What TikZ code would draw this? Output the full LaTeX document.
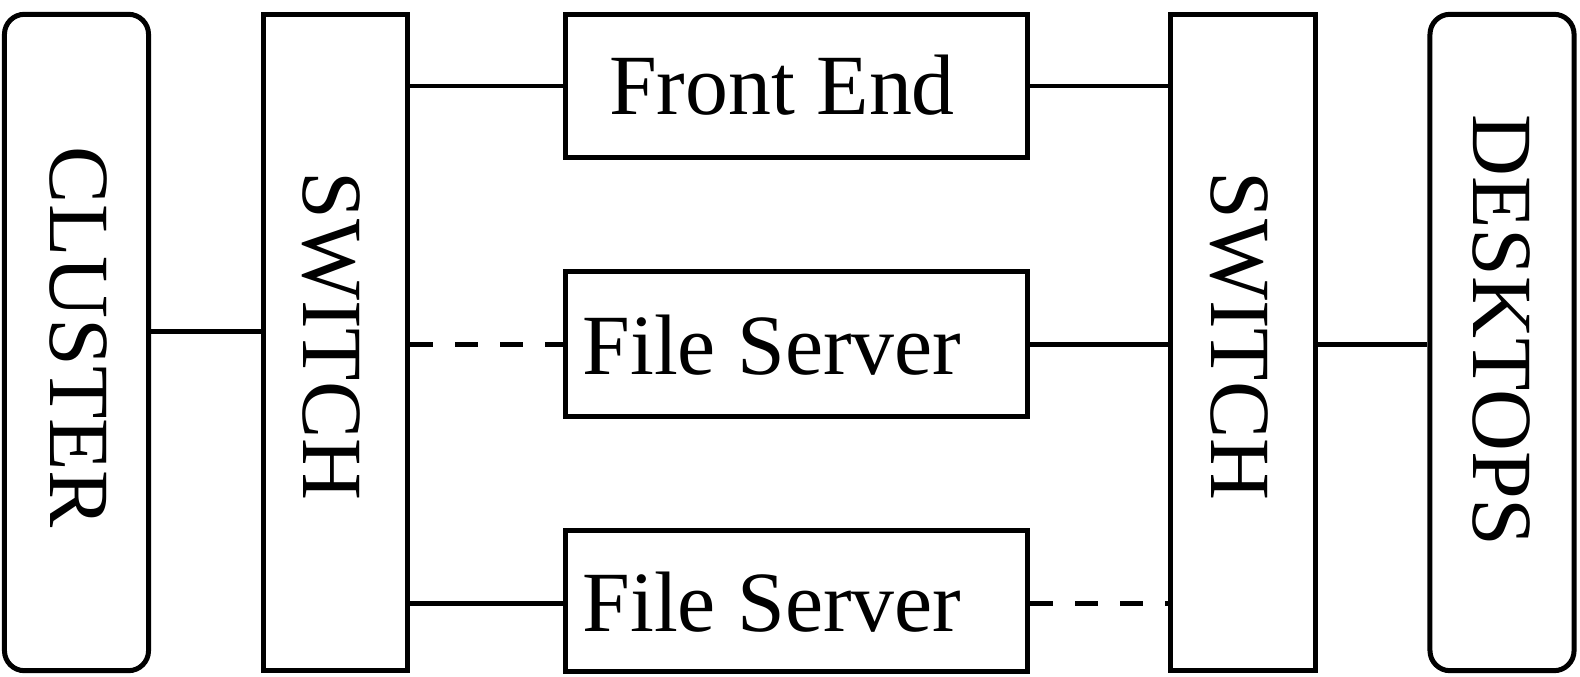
\documentclass[tikz,border=0pt]{standalone}
\usepackage{fontspec}
\setmainfont{Liberation Serif}
\begin{document}
\begin{tikzpicture}[x=0.01cm,y=-0.01cm,
  box/.style={draw,line width=1.42pt,inner sep=0pt,anchor=center},
  endbox/.style={box,rounded corners=0.2cm,minimum width=1.44cm,minimum height=6.56cm},
  switchbox/.style={box,minimum width=1.44cm,minimum height=6.56cm},
  hostbox/.style={box,minimum width=4.62cm},
  lbl/.style={inner sep=0pt,anchor=center,font=\fontsize{24.4}{29}\selectfont},
  vlbl/.style={lbl,rotate=-90},
  link/.style={line width=1.42pt},
  backup/.style={link,dash pattern=on 0.23cm off 0.22cm}]
\useasboundingbox (0,0) rectangle (1580,676);

% end points of the network
\node[endbox] (cl) at (76.5,342.5) {};
\node[endbox] (dt) at (1502,342.5) {};
% switches
\node[switchbox] (swl) at (335.5,342.5) {};
\node[switchbox] (swr) at (1243,342.5) {};
% hosts between the switches
\node[hostbox,minimum height=1.43cm] (fe)  at (796.5,86) {};
\node[hostbox,minimum height=1.44cm] (fs1) at (796.5,344) {};
\node[hostbox,minimum height=1.40cm] (fs2) at (796.5,601) {};

% labels
\node[vlbl] (tcl)  at (78,337.5)  {CLUSTER};
\node[vlbl] (tswl) at (331,336)   {SWITCH};
\node[vlbl] (tswr) at (1239,336)  {SWITCH};
\node[vlbl] (tdt)  at (1501,330.5) {DESKTOPS};
\node[lbl]  (tfe)  at (782,85)    {Front End};
\node[lbl]  (tfs1) at (772,345)   {File Server};
\node[lbl]  (tfs2) at (772,602.5) {File Server};

% links
\draw[link] (cl.east |- 0,331) -- (swl.west |- 0,331);
\draw[link] (swl.east |- fe.west) -- (fe.west);
\draw[backup] (swl.east |- fs1.west) -- (fs1.west);
\draw[link] (swl.east |- 0,603) -- (fs2.west |- 0,603);
\draw[link] (fe.east) -- (swr.west |- fe.east);
\draw[link] (fs1.east) -- (swr.west |- fs1.east);
\draw[backup] (fs2.east |- 0,603) -- (swr.west |- 0,603);
\draw[link] (swr.east |- fs1.east) -- (dt.west |- fs1.east);
\end{tikzpicture}
\end{document}
